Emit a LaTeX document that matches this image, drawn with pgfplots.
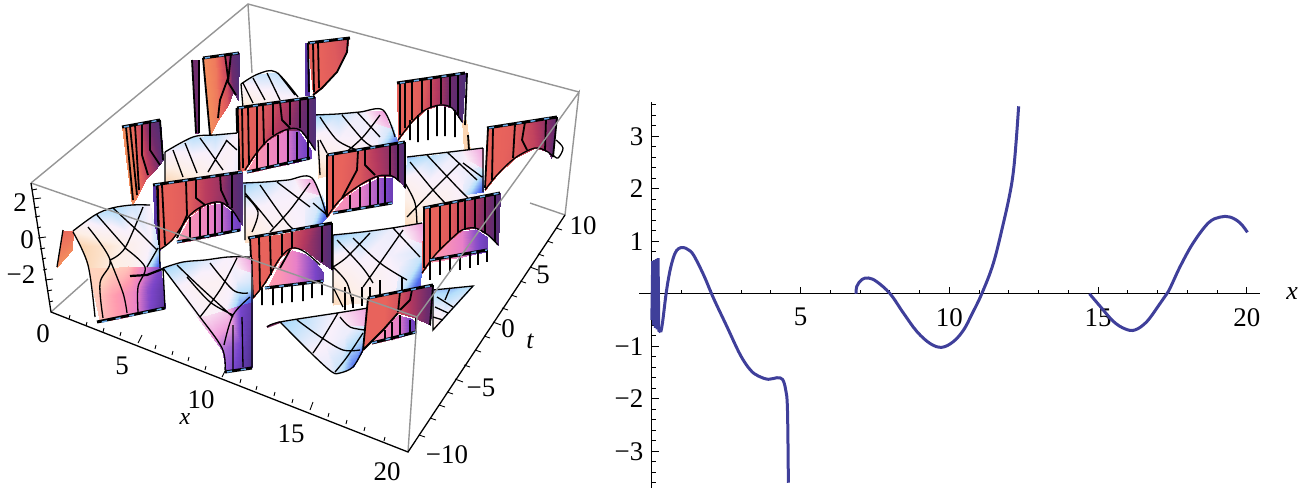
\documentclass[border=0pt]{standalone}
\usepackage{pgfplots}
\pgfplotsset{compat=1.18}
\usepackage{fontspec}
\setmainfont{Liberation Serif}
\newcommand{\F}{\fontsize{27}{30}\selectfont}
\pgfplotsset{
 M/.style={surf,shader=interp,mesh/cols=#1,draw=none,forget plot},
 L/.style={black,line width=1.3bp,forget plot,mark=none,line join=round,smooth,tension=0.55},
 V/.style={black,line width=1.8bp,forget plot,mark=none,line join=round},
 H/.style={black,line width=3bp,forget plot,mark=none},
 D/.style={color={rgb,255:red,105;green,170;blue,232},line width=1.5bp,dash pattern=on 5bp off 9bp,forget plot,mark=none},
 G/.style={color={rgb,255:red,150;green,150;blue,150},line width=1.4bp,forget plot,mark=none},
}
\begin{document}
\begin{tikzpicture}[x=1bp,y=1bp]
\useasboundingbox (0,0) rectangle (1303,497);
\begin{axis}[at={(0,0)},anchor=south west,scale only axis,width=1303bp,height=497bp,
 view={0}{90},xmin=0,xmax=1303,ymin=0,ymax=497,zmin=-1,zmax=23,y dir=reverse,hide axis,
 point meta min=0,point meta max=22,
 colormap={all}{rgb255=(247,154,94) rgb255=(232,99,92) rgb255=(181,57,95) rgb255=(110,43,108) rgb255=(75,46,120)
 rgb255=(253,224,200) rgb255=(251,212,176) rgb255=(253,239,230) rgb255=(249,240,251) rgb255=(181,223,251) rgb255=(80,112,240) rgb255=(106,60,192) rgb255=(74,46,138)
 rgb255=(251,239,240) rgb255=(255,212,190) rgb255=(255,154,175) rgb255=(232,128,200) rgb255=(123,69,200) rgb255=(74,46,136)
 rgb255=(250,235,245) rgb255=(240,160,220) rgb255=(120,70,205) rgb255=(74,46,136)},
 clip=false]
% back box lines
\addplot[G] coordinates {(31,183)(248,4)(579,92)};
\addplot[G] coordinates {(248,4)(252,73)};
\addplot[G] coordinates {(51,312)(88,279)};
\addplot[G] coordinates {(565,215)(530,203)};
% Pa
\addplot3[M=4] coordinates {(241,84,8)(258,74,8.7)(276,72,8.8)(298,97,8)
(244,112,6.3)(262,110,7)(282,107,7.6)(300,102,8.4)};
\addplot[L] coordinates {(241,84)(258,74)(276,72)(298,97)

(243,83)(253,103)

(253,78)(265,100)

(267,73)(280,100)

(278,73)(295,95)

(241,84)(243,108)};
% W1
\addplot3[M=2] coordinates {(193,60,3)(198,60,3)
(195,133,3)(198,133,3)};
\addplot3[M=5] coordinates {(203,58,0.2)(215,57,0.6)(225,55,1.7)(231,54,3.2)(239,53,3.9)
(210,135,0.2)(218,120,0.6)(228,105,1.4)(233,92,3)(238,100,3.8)};
\addplot[V] coordinates {(203,58)(210,135)

(225,55)(228,78)(220,100)(218,118)

(231,54)(228,82)(236,95)

(192,60)(196,133)

(199,60)(199,133)};
\addplot[H] coordinates {(203,58)(239,53)};
\addplot[D] coordinates {(205,58)(239,53)};
% W4
\addplot3[M=2] coordinates {(305,43,11.5)(308,43,11.5)
(305,95,11.5)(309,95,11.5)};
\addplot3[M=4] coordinates {(308,43,1)(318,42,1)(332,40,1.2)(348,38,1.6)
(313,95,1)(322,88,1)(337,70,1.2)(347,52,1.7)};
\addplot[V] coordinates {(308,43)(309,92)

(313,43)(314,92)

(318,42)(319,88)

(348,38)(347,52)(337,72)(322,88)(313,95)};
\addplot[H] coordinates {(308,43)(350,38)};
\addplot[D] coordinates {(310,43)(348,38)};
% Pc
\addplot3[M=4] coordinates {(313,115,9.3)(337,114,8.8)(360,112,8.2)(383,110,7.8)
(317,140,7.6)(340,138,8)(365,132,8.1)(395,137,8.3)
(318,178,6.2)(340,172,7)(368,158,7.8)(395,145,8.5)};
\addplot3[M=2] coordinates {(378,122,8.1)(392,125,8.6)
(378,145,8.3)(398,145,10.5)};
\addplot3[M=2] coordinates {(365,111,19)(383,110,20)
(372,122,19)(390,128,19.6)};
\addplot[L] coordinates {(313,115)(337,114)(360,112)(383,110)(395,137)

(320,117)(337,140)(357,150)

(342,115)(363,140)(373,147)

(380,115)(363,137)(345,153)

(357,112)(380,137)

(320,140)(327,153)

(318,140)(320,175)};
% sliver
\addplot3[M=2] coordinates {(462,120,6)(466,120,6)
(464,152,6)(470,150,6)};
% W5
\addplot3[M=6] coordinates {(397,83,1)(410,81,1)(425,79,1.2)(437,77,2)(450,75,3)(465,73,3.9)
(398,140,1)(412,122,1)(425,110,1.4)(440,105,2.2)(452,108,3.2)(462,122,3.9)};
\addplot[V] coordinates {(400,83)(400,135)

(405,82)(405,128)

(412,81)(412,120)

(422,79)(422,112)

(431,78)(431,107)

(441,77)(441,104)

(450,75)(450,107)

(458,74)(458,115)

(410,120)(410,140)

(418,115)(418,142)

(428,110)(428,140)

(437,106)(437,136)

(445,107)(445,136)

(455,110)(455,137)

(467,73)(465,125)

(468,135)(469,150)};
\addplot[L] coordinates {(398,140)(412,122)(425,110)(440,105)(452,108)(462,122)};
\addplot[H] coordinates {(397,83)(465,73)};
\addplot[D] coordinates {(400,83)(465,73)};
% Pl
\addplot3[M=4] coordinates {(407,157,9.3)(432,155,8.9)(458,151,8.2)(483,148,7.7)
(405,185,7.4)(430,180,8)(458,170,8.1)(483,178,8.5)
(405,228,6.2)(432,215,7)(458,200,7.8)(483,192,8.4)};
\addplot3[M=2] coordinates {(465,172,8.1)(483,165,8.6)
(462,195,8.3)(483,192,10.5)};
\addplot3[M=2] coordinates {(462,150,19)(483,148,20)
(468,160,19)(483,168,19.6)};
\addplot[L] coordinates {(407,157)(458,151)(483,148)

(410,162)(433,190)(447,205)

(427,155)(457,187)(468,198)

(460,163)(433,190)(407,217)

(405,183)(415,203)(417,227)

(447,152)(477,180)

(482,177)(463,163)

(483,148)(483,192)};
% W6
\addplot3[M=6] coordinates {(487,128,1)(500,126,1)(515,124,1.1)(530,122,1.7)(545,119,2.5)(557,117,3.3)
(485,190,1)(497,175,1)(515,158,1.2)(535,148,1.8)(548,152,2.8)(551,158,3.4)};
\addplot[L] coordinates {(485,190)(497,175)(515,158)(535,148)(548,152)(553,157)

(556,140)(563,148)(558,158)(553,155)};
\addplot[V] coordinates {(488,128)(485,188)

(493,127)(492,180)

(515,124)(513,158)

(525,122)(522,140)(527,150)

(546,119)(545,150)

(557,117)(553,157)};
\addplot[H] coordinates {(487,128)(557,117)};
\addplot[D] coordinates {(489,128)(557,117)};
% W3
\addplot3[M=6] coordinates {(247,171,15)(258,152,15.2)(270,138,15.6)(285,130,16)(298,130,16.8)(311,150,17.2)
(247,173,15)(258,171,15.2)(270,168,15.6)(285,165,16)(298,162,16.8)(311,158,17.2)};
\addplot3[M=7] coordinates {(237,108,0.9)(247,107,1)(262,105,1.2)(280,102,1.8)(292,101,2.3)(304,99,3)(315,97,3.9)
(238,172,0.9)(245,170,1)(255,155,1.2)(268,140,1.8)(285,130,2.3)(300,130,3)(315,150,3.9)};
\addplot[V] coordinates {(242,107)(243,168)

(248,107)(249,165)

(257,106)(257,155)

(263,105)(264,145)

(273,103)(273,135)

(280,102)(282,120)(290,128)

(290,101)(290,125)

(300,100)(300,128)

(308,98)(308,140)

(257,155)(257,170)

(268,143)(268,168)

(278,135)(278,166)

(288,130)(288,165)

(297,132)(297,162)

(308,140)(308,160)};
\addplot[L] coordinates {(245,170)(255,155)(268,140)(285,130)(300,130)(315,150)};
\addplot[H] coordinates {(247,172)(310,158)};
\addplot[D] coordinates {(247,172)(310,158)};
\addplot[H] coordinates {(237,108)(315,97)};
\addplot[D] coordinates {(239,108)(315,97)};
\addplot[H] coordinates {(237,108)(239,170)};
% Pb
\addplot3[M=4] coordinates {(165,152,8)(193,137,8.9)(215,135,8.8)(237,133,8)
(165,182,6.1)(190,178,6.8)(215,176,7.4)(237,172,8.2)};
\addplot[L] coordinates {(165,152)(193,137)(215,135)(237,133)

(173,150)(183,177)

(185,143)(197,173)

(200,138)(223,170)

(227,140)(208,172)

(237,150)(226,140)

(165,152)(165,182)};
% W2
\addplot3[M=5] coordinates {(122,127,0.2)(130,126,0.7)(140,124,1.7)(150,122,3.1)(160,120,3.9)
(132,205,0.2)(138,195,0.6)(145,180,1.4)(155,170,2.5)(163,160,3.8)};
\addplot[V] coordinates {(126,127)(133,200)

(130,126)(137,195)

(135,125)(139,190)

(142,124)(142,155)(148,175)

(150,122)(150,150)(160,165)

(160,120)(163,160)};
\addplot[H] coordinates {(122,127)(160,120)};
\addplot[D] coordinates {(124,127)(160,120)};
% Pd
\addplot3[M=4] coordinates {(243,183,9.3)(265,182,8.8)(288,180,8.2)(312,178,7.8)
(243,205,8.2)(265,205,8)(290,200,8)(322,200,8.2)
(245,242,6.3)(275,242,7.3)(305,238,8)(327,217,8.4)};
\addplot3[M=2] coordinates {(305,200,8.1)(322,195,8.6)
(305,240,8.4)(327,217,10.5)};
\addplot3[M=2] coordinates {(295,179,19)(312,178,20)
(300,190,19)(320,195,19.6)};
\addplot[L] coordinates {(243,183)(265,182)(288,180)(312,178)(327,217)

(245,193)(262,213)(273,227)

(260,185)(287,223)(298,232)

(277,182)(310,207)

(310,183)(290,210)(270,232)

(327,215)(313,203)

(246,196)(258,212)(252,232)

(245,185)(245,240)};
% W7
\addplot3[M=5] coordinates {(333,212,15.2)(345,197,15.5)(360,187,16)(378,178,16.6)(392,177,17.3)
(333,214,15.2)(345,211,15.5)(360,209,16)(378,206,16.6)(392,203,17.3)};
\addplot3[M=7] coordinates {(327,155,1)(342,153,1)(360,150,1.3)(375,148,2)(390,145,2.6)(398,143,3.3)(405,142,3.9)
(327,217,1)(340,200,1)(360,185,1.3)(378,176,2)(392,176,2.6)(400,182,3.3)(405,188,3.9)};
\addplot[L] coordinates {(327,217)(340,200)(360,185)(378,176)(392,176)(400,182)};
\addplot[V] coordinates {(327,155)(327,217)

(333,154)(333,208)

(358,151)(357,170)(342,198)

(365,150)(365,165)(375,175)

(390,145)(390,176)

(398,143)(398,180)

(405,142)(405,188)

(350,195)(350,210)

(360,187)(360,209)

(370,180)(370,207)

(378,177)(378,205)

(385,176)(385,204)};
\addplot[H] coordinates {(333,213)(392,203)};
\addplot[D] coordinates {(333,213)(392,203)};
\addplot[H] coordinates {(327,155)(405,142)};
\addplot[D] coordinates {(329,155)(405,142)};
% W8
\addplot3[M=2] coordinates {(153,185,11.5)(157,185,11.5)
(155,250,11.5)(160,250,11.5)};
\addplot3[M=6] coordinates {(177,241,15)(190,217,15.3)(205,206,15.7)(220,203,16.3)(232,212,16.9)(240,222,17.2)
(177,243,15)(190,241,15.3)(205,238,15.7)(220,235,16.3)(232,232,16.9)(240,230,17.2)};
\addplot3[M=7] coordinates {(156,185,1)(170,183,1)(190,180,1.2)(205,178,1.9)(222,175,2.4)(232,174,3.2)(242,172,3.9)
(159,250,1)(172,240,1)(190,215,1.2)(205,205,1.9)(220,202,2.4)(232,210,3.2)(242,225,3.9)};
\addplot[L] coordinates {(159,250)(172,240)(190,215)(205,205)(220,202)(232,210)(240,222)};
\addplot[V] coordinates {(157,185)(159,250)

(162,185)(165,245)

(186,181)(187,215)(177,238)

(196,180)(196,198)(205,205)

(220,175)(221,190)(228,205)

(232,174)(232,208)

(190,217)(190,241)

(200,208)(200,239)

(208,205)(208,238)

(215,203)(215,236)

(222,203)(222,234)

(232,211)(232,232)};
\addplot[H] coordinates {(177,242)(240,230)};
\addplot[D] coordinates {(177,242)(240,230)};
\addplot[H] coordinates {(153,185)(242,172)};
\addplot[D] coordinates {(155,185)(242,172)};
% Pe
\addplot3[M=4] coordinates {(333,235,9.3)(362,232,8.9)(392,228,8.2)(422,223,7.8)
(333,265,7.4)(360,262,8)(392,255,8.1)(422,252,8.5)
(333,305,6.2)(362,303,7)(392,298,7.8)(420,285,8.5)};
\addplot3[M=2] coordinates {(400,262,8.1)(422,255,8.8)
(395,298,8.5)(420,285,10.5)};
\addplot3[M=2] coordinates {(400,226,19)(422,223,20)
(408,238,19)(422,243,19.6)};
\addplot[L] coordinates {(333,235)(362,232)(392,228)(422,223)

(337,240)(362,267)(373,283)

(353,238)(380,263)(407,280)

(370,233)(347,257)(333,267)

(403,230)(380,263)(363,287)

(393,228)(420,257)

(333,267)(347,283)(353,307)

(333,287)(343,307)

(333,235)(333,303)};
\addplot[V] coordinates {(345,287)(345,310)

(353,297)(353,308)

(362,287)(362,306)

(370,287)(370,300)

(380,280)(380,296)

(402,277)(402,290)};
% W9
\addplot3[M=6] coordinates {(268,287,15)(280,262,15.2)(292,250,15.8)(305,254,16.5)(315,262,17)(323,272,17.4)
(268,289,15)(280,287,15.2)(292,285,15.8)(305,283,16.5)(315,282,17)(323,281,17.4)};
\addplot3[M=7] coordinates {(250,238,1)(265,236,1)(280,234,1.1)(295,231,1.5)(310,228,2.2)(322,225,3)(332,223,3.9)
(253,298,1)(265,283,1)(280,258,1.1)(292,248,1.5)(305,250,2.2)(320,262,3)(332,270,3.9)};
\addplot[L] coordinates {(253,298)(265,283)(280,258)(292,248)(305,252)(320,265)};
\addplot[V] coordinates {(250,238)(253,298)

(259,237)(260,290)

(270,236)(271,275)

(282,234)(282,255)

(292,232)(292,248)

(290,250)(280,268)

(322,226)(322,262)

(332,223)(332,270)

(262,288)(262,305)

(273,287)(273,305)

(282,285)(282,303)

(292,285)(292,302)

(303,283)(303,301)

(312,282)(312,298)

(322,280)(322,295)};
\addplot[H] coordinates {(265,288)(323,281)};
\addplot[D] coordinates {(265,288)(323,281)};
\addplot[H] coordinates {(248,238)(332,223)};
\addplot[D] coordinates {(250,238)(332,223)};
% Pi
\addplot3[M=3] coordinates {(433,290,9.2)(452,288,9.3)(473,286,8.8)
(433,330,7)(436,327,7.6)(440,322,8.4)};
\addplot[L] coordinates {(437,297)(453,307)

(435,307)(448,313)

(433,317)(443,320)

(450,288)(445,300)};
\addplot[line width=1.3bp,black,forget plot] coordinates {(433,290)(473,286)(433,330)(433,290)};
% W10
\addplot3[M=5] coordinates {(432,258,15)(450,240,15.5)(462,231,16)(475,229,16.8)(487,237,17.3)
(432,262,15)(450,259,15.5)(462,257,16)(475,254,16.8)(487,252,17.3)};
\addplot3[M=7] coordinates {(423,208,1)(438,206,1)(452,203,1.2)(465,201,1.7)(478,198,2.3)(490,195,3)(500,193,3.8)
(422,273,1)(435,255,1)(450,240,1.2)(462,230,1.7)(475,228,2.3)(488,235,3)(498,245,3.8)};
\addplot[L] coordinates {(422,273)(435,255)(450,240)(462,230)(475,228)(488,235)(498,245)};
\addplot[V] coordinates {(424,208)(424,268)

(430,207)(430,260)

(440,206)(440,250)

(450,204)(450,240)

(458,202)(458,233)

(465,201)(465,230)

(475,199)(475,228)

(485,197)(485,233)

(495,194)(495,242)

(430,260)(430,280)

(440,258)(440,275)

(450,257)(450,272)

(460,255)(460,270)

(470,252)(470,268)

(478,250)(478,265)

(487,250)(487,262)};
\addplot[H] coordinates {(430,260)(487,250)};
\addplot[D] coordinates {(430,260)(487,250)};
\addplot[H] coordinates {(423,208)(500,193)};
\addplot[D] coordinates {(425,208)(500,193)};
% P1 small red
\addplot3[M=2] coordinates {(63,230,0.9)(73,231,0.8)
(57,267,0.2)(72,250,0.3)};
\addplot[L] coordinates {(63,230)(57,267)};
% P1
\addplot3[M=5] coordinates {(73,231,7)(95,215,8.7)(112,208,9.1)(132,205,8.6)(150,205,8)
(81,246,6)(110,246,6.7)(133,244,7.4)(150,240,8)(158,247,8.8)
(88,267,6.2)(110,268,6.9)(128,266,7.2)(142,267,7.8)(160,267,10.5)};
\addplot3[M=5] coordinates {(88,267,14)(110,268,14)(128,266,14.3)(142,267,15.8)(160,267,17)
(94,295,14.1)(113,295,14.9)(132,292,15.6)(147,290,16.8)(163,288,17.5)
(100,322,14.3)(118,319,15)(135,315,15.9)(150,311,17)(165,308,17.8)};
\addplot[L] coordinates {(73,231)(95,215)(112,208)(132,205)(150,205)

(73,232)(88,265)(95,317)

(88,227)(110,260)(100,283)(103,318)

(110,260)(123,293)(127,313)

(125,248)(145,267)(138,287)(138,312)

(140,233)(157,250)

(143,207)(125,248)(110,260)

(97,215)(125,247)

(113,208)(140,233)

(158,248)(147,267)

(163,268)(165,308)

(158,185)(160,268)};
\addplot[line width=2.2bp,black,forget plot] coordinates {(130,276)(147,275)(165,268)};
\addplot[H] coordinates {(97,322)(165,308)};
\addplot[D] coordinates {(102,322)(165,308)};
% P2
\addplot3[M=5] coordinates {(163,268,9.2)(183,262,9)(205,260,8.4)(228,257,8)(250,257,7.8)
(177,287,8)(197,285,7.6)(218,282,7.6)(237,280,8.2)(252,283,8.6)
(197,317,8)(208,315,7.8)(225,310,8)(240,305,9.6)(252,302,10.5)};
\addplot3[M=5] coordinates {(197,317,19.3)(208,315,19.2)(225,310,19.4)(240,305,21)(252,302,21.5)
(222,350,20.5)(231,347,20.7)(240,342,21)(247,338,21.5)(252,335,21.8)
(226,371,20.8)(233,371,21)(240,370,21.4)(247,369,21.7)(252,367,22)};
\addplot3[M=2] coordinates {(232,257,19)(250,257,20)
(238,268,19)(250,272,19.6)};
\addplot[L] coordinates {(163,268)(183,262)(205,260)(228,257)(250,257)

(177,265)(200,287)(233,317)

(210,263)(233,290)(248,293)

(237,258)(220,290)(200,317)

(187,277)(210,302)(233,315)

(250,297)(233,315)(224,345)

(163,268)(197,313)(222,348)(225,370)

(233,325)(233,370)

(242,317)(243,367)

(252,258)(252,367)};
\addplot[H] coordinates {(225,372)(252,368)};
\addplot[D] coordinates {(227,372)(252,368)};
% Ph
\addplot3[M=4] coordinates {(280,322,9.2)(305,318,8.8)(337,313,8)(368,308,8)
(312,352,8)(325,345,8)(345,335,8.2)(367,328,8.8)
(332,372,8.3)(340,373,8.8)(353,367,10)(363,350,10.5)};
\addplot3[M=2] coordinates {(337,313,19)(368,308,20)
(345,325,19)(368,325,19.8)};
\addplot[line width=2bp,forget plot,color={rgb,255:red,120;green,40;blue,90}] coordinates {(267,327)(280,322)};
\addplot[L] coordinates {(267,327)(280,322)(337,313)(368,308)

(280,322)(313,355)(332,372)(340,373)(353,367)(363,350)

(297,320)(322,338)(343,350)(360,350)

(338,313)(323,338)(313,353)

(340,317)(350,327)(365,330)

(363,333)(347,357)(335,372)};
% W11
\addplot3[M=5] coordinates {(372,342,15)(385,328,15.5)(398,315,16)(410,318,17)(416,322,17.3)
(372,344,15)(385,341,15.5)(398,338,16)(410,334,17)(416,332,17.3)};
\addplot3[M=5] coordinates {(368,298,1)(385,295,1)(400,292,1.4)(415,289,2.3)(433,285,3.3)
(363,350,1)(383,330,1)(398,313,1.4)(415,318,2.3)(430,325,3.3)};
\addplot[V] coordinates {(368,298)(363,350)

(363,350)(383,330)(398,313)

(400,292)(398,312)

(412,290)(410,300)(400,310)

(433,285)(430,325)

(385,330)(385,341)

(392,322)(392,340)

(400,315)(400,337)

(410,320)(410,334)

(416,318)(416,332)};
\addplot[H] coordinates {(372,343)(416,332)};
\addplot[D] coordinates {(372,343)(416,332)};
\addplot[H] coordinates {(368,298)(433,285)};
\addplot[D] coordinates {(370,298)(430,286)};
% front box lines
\addplot[G] coordinates {(31,183)(417,317)(579,92)(565,215)};
\addplot[G] coordinates {(408,452)(417,317)};
% axes
\addplot[black,line width=1.3bp,forget plot] coordinates {(31,183)(51,312)(408,452)(565,215)};
\addplot[line width=0.9bp,black,forget plot] coordinates {
(32,190)(37,189)

(33,199)(41,198)

(34,208)(39,207)

(35,217)(40,216)

(37,228)(41,227)

(38,238)(46,237)

(40,249)(45,248)

(42,259)(46,258)

(43,270)(47,269)

(45,280)(53,279)

(47,291)(52,290)

(49,302)(53,301)

(69,319)(70,315)

(86,326)(87,322)

(103,332)(104,328)

(120,336)(121,332)

(138,343)(142,335)

(155,349)(156,345)

(172,355)(173,351)

(188,361)(189,357)

(205,370)(206,366)

(222,377)(226,369)

(240,383)(241,379)

(256,390)(257,386)

(274,396)(275,392)

(292,403)(293,399)

(310,410)(313,402)

(328,417)(329,413)

(346,424)(347,420)

(364,431)(365,427)

(384,441)(385,437)

(419,435)(425,437)

(430,418)(436,420)

(439,405)(445,407)

(447,392)(453,394)

(455,379)(463,382)

(464,365)(470,367)

(475,350)(481,352)

(484,336)(490,338)

(493,322)(501,325)

(502,308)(508,310)

(511,295)(517,297)

(520,281)(526,283)

(530,267)(538,270)

(538,254)(544,256)

(547,241)(553,243)

(556,228)(562,230)};
\node at (axis cs:20,203) {\F 2};
\node at (axis cs:27,240) {\F 0};
\node at (axis cs:21,275) {\F −2};
\node at (axis cs:43,334) {\F 0};
\node at (axis cs:122,366) {\F 5};
\node at (axis cs:201,400) {\F 10};
\node at (axis cs:291,434) {\F 15};
\node at (axis cs:387,472) {\F 20};
\node at (axis cs:447,455) {\F −10};
\node at (axis cs:481,388) {\F −5};
\node at (axis cs:508,329) {\F 0};
\node at (axis cs:543,275) {\F 5};
\node at (axis cs:583,226) {\F 10};
\node at (axis cs:185,419) {\fontsize{24}{28}\selectfont\itshape x};
\node at (axis cs:530,341) {\fontsize{26}{28}\selectfont\itshape t};
\end{axis}
\begin{axis}[at={(639bp,9bp)},anchor=south west,scale only axis,width=620.6bp,height=386.4bp,
 xmin=-0.43,xmax=20.43,ymin=-3.7,ymax=3.66,axis lines=middle,axis line style={-,line width=1bp},
 xtick={5,10,15,20},xticklabels={5,10,15,20},ytick={-3,-2,-1,1,2,3},yticklabels={−3,−2,−1,1,2,3},
 minor xtick={1,2,3,4,6,7,8,9,11,12,13,14,16,17,18,19},
 minor ytick={-3.6,-3.4,-3.2,-2.8,-2.6,-2.4,-2.2,-1.8,-1.6,-1.4,-1.2,-0.8,-0.6,-0.4,-0.2,0.2,0.4,0.6,0.8,1.2,1.4,1.6,1.8,2.2,2.4,2.6,2.8,3.2,3.4,3.6},
 tick align=inside,major tick length=7bp,minor tick length=4bp,
 tick style={black,line width=0.9bp},
 ticklabel style={font=\F},xticklabel style={yshift=-11bp},yticklabel style={xshift=-5bp},clip=false]
\pgfplotsset{every axis plot/.style={color={rgb,255:red,63;green,63;blue,154},line width=3bp}}
\addplot[mark=none] coordinates {(0,-0.5)(0.01,-0.15)(0.03,0.62)(0.06,-0.6)(0.09,0.64)(0.12,-0.65)(0.15,0.66)(0.18,-0.68)(0.21,0.68)(0.235,-0.7)(0.3,-0.73)};
\addplot[mark=none,smooth,tension=0.6] coordinates {(0.3,-0.73)(0.36,-0.55)(0.48,0)(0.58,0.35)(0.67,0.58)(0.78,0.77)(0.9,0.86)(1.06,0.88)(1.22,0.84)(1.4,0.74)(1.74,0.36)(2.07,-0.08)(2.52,-0.62)(2.97,-1.16)(3.31,-1.45)(3.59,-1.57)(3.92,-1.63)(4.2,-1.6)(4.39,-1.63)(4.5,-1.83)(4.56,-2.21)(4.59,-3.6)};
\addplot[mark=none,smooth,tension=0.6] coordinates {(6.87,0)(6.89,0.14)(7.06,0.27)(7.28,0.3)(7.56,0.23)(8.01,0)(8.46,-0.37)(8.91,-0.72)(9.36,-0.95)(9.75,-1.02)(10.14,-0.91)(10.48,-0.69)(10.75,-0.4)(11.09,0)(11.48,0.58)(11.82,1.35)(12.04,1.92)(12.16,2.36)(12.25,2.93)(12.33,3.57)};
\addplot[mark=none,smooth,tension=0.6] coordinates {(14.71,0)(15.07,-0.24)(15.52,-0.53)(15.91,-0.67)(16.24,-0.69)(16.64,-0.53)(17.09,-0.18)(17.36,0.04)(17.76,0.52)(18.2,0.97)(18.71,1.35)(19.1,1.46)(19.44,1.46)(19.77,1.35)(20.02,1.17)};
\node at (axis cs:21.52,0) {\fontsize{26}{28}\selectfont\itshape x};
\end{axis}
\end{tikzpicture}
\end{document}
